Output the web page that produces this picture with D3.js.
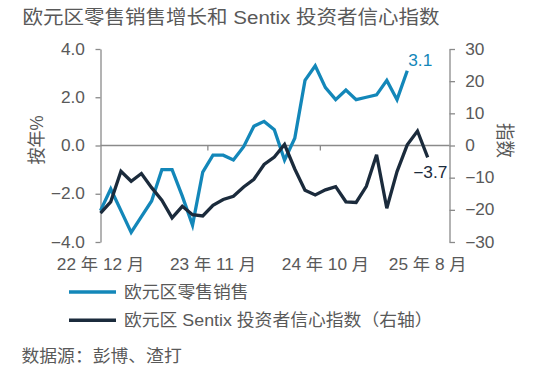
<!DOCTYPE html>
<html><head><meta charset="utf-8">
<script src="https://cdn.jsdelivr.net/npm/d3@7"></script>
<style>
html,body{margin:0;padding:0;background:#fff;}
svg{display:block;font-family:"Liberation Sans","Noto Sans CJK SC",sans-serif;}
</style></head>
<body><svg id="c" width="557" height="372"></svg>
<script>
const months = ["2022-12","2023-01","2023-02","2023-03","2023-04","2023-05","2023-06","2023-07","2023-08","2023-09","2023-10","2023-11",
  "2023-12","2024-01","2024-02","2024-03","2024-04","2024-05","2024-06","2024-07","2024-08","2024-09","2024-10","2024-11",
  "2024-12","2025-01","2025-02","2025-03","2025-04","2025-05","2025-06","2025-07","2025-08"];
const retailYoY = [-2.7,-1.8,-2.7,-3.6,-2.95,-2.3,-1.0,-1.0,-2.1,-3.3,-1.1,-0.4,-0.4,-0.6,-0.05,0.8,1.0,0.65,-0.6,0.3,2.7,3.3,2.4,1.9,2.3,1.9,2.0,2.1,2.7,1.9,3.1];
const sentixIdx = [-21.0,-17.5,-8.0,-11.1,-8.7,-13.1,-17.0,-22.5,-18.9,-21.5,-21.9,-18.6,-16.8,-15.8,-12.9,-10.5,-5.9,-3.6,0.3,-7.3,-13.9,-15.4,-13.8,-12.8,-17.5,-17.7,-12.7,-2.9,-19.5,-8.1,0.2,4.5,-3.7];
const xTickMonths = ["2022-12","2023-11","2024-10","2025-08"];
const xTickLabels = ["22 年 12 月","23 年 11 月","24 年 10 月","25 年 8 月"];
const leftTicks = [-4,-2,0,2,4];
const rightTicks = [-30,-20,-10,0,10,20,30];
const title = "欧元区零售销售增长和 Sentix 投资者信心指数";
const seriesNames = ["欧元区零售销售","欧元区 Sentix 投资者信心指数（右轴）"];
const source = "数据源：彭博、渣打";

const BLUE = "#1387b9", NAVY = "#1b2b3c", AXIS = "#8a8a8a", TXT = "#595959";
const SX = 1.08;
const L = 100.5, R = 449.5, T = 49, B = 242, XEND = 427.7;

const svg = d3.select("#c");
const x = d3.scaleLinear().domain([0, months.length - 1]).range([L, XEND]);
const yL = d3.scaleLinear().domain([-4, 4]).range([B, T]);
const yR = d3.scaleLinear().domain([-30, 30]).range([B, T]);

function txt(xp, yp, s, size, color, anchor) {
  return svg.append("text")
    .attr("transform", `translate(${xp},${yp}) scale(${SX},1)`)
    .attr("font-size", size).attr("fill", color)
    .attr("text-anchor", anchor || "start").text(s);
}

// title
txt(22.5, 23.5, title, 19, TXT);

// zero line
svg.append("line").attr("x1", L).attr("x2", R).attr("y1", yL(0)).attr("y2", yL(0))
  .attr("stroke", AXIS).attr("stroke-width", 1.3);
// x tick marks (between categories)
const idxOf = m => months.indexOf(m);
svg.selectAll(".xt").data(xTickMonths.slice(1, 3)).enter().append("line")
  .attr("x1", d => x(idxOf(d) - 0.5)).attr("x2", d => x(idxOf(d) - 0.5))
  .attr("y1", yL(0)).attr("y2", yL(0) + 5).attr("stroke", AXIS).attr("stroke-width", 1.3);
// x labels
xTickMonths.forEach((m, i) => txt(x(idxOf(m)), 270, xTickLabels[i], 16, TXT, "middle"));

// left axis
const gl = svg.append("g").attr("transform", `translate(${L},0)`)
  .call(d3.axisLeft(yL).tickValues(leftTicks).tickFormat(d3.format(".1f")).tickSize(5).tickSizeOuter(0).tickPadding(9.4));
// right axis
const gr = svg.append("g").attr("transform", `translate(${R},0)`)
  .call(d3.axisRight(yR).tickValues(rightTicks).tickFormat(d3.format("d")).tickSize(5.5).tickSizeOuter(0).tickPadding(9));
[gl, gr].forEach(g => {
  g.select(".domain").attr("stroke", AXIS).attr("stroke-width", 1.3);
  g.selectAll(".tick line").attr("stroke", AXIS).attr("stroke-width", 1.3);
  g.selectAll(".tick text").attr("font-size", 16).attr("fill", TXT)
    .attr("font-family", "Liberation Sans, Noto Sans CJK SC, sans-serif")
    .attr("transform", `scale(${SX},1)`);
});

// axis titles
svg.append("text").attr("transform", `translate(43,140) rotate(-90) scale(1,${SX})`)
  .attr("text-anchor", "middle").attr("font-size", 17).attr("fill", TXT).text("按年%");
svg.append("text").attr("transform", `translate(497.5,140.5) rotate(90) scale(1,${SX})`)
  .attr("text-anchor", "middle").attr("font-size", 17.5).attr("fill", TXT).text("指数");

// lines
const lineL = d3.line().x((d, i) => x(i)).y(d => yL(d));
const lineR = d3.line().x((d, i) => x(i)).y(d => yR(d));
svg.append("path").datum(retailYoY).attr("d", lineL).attr("fill", "none")
  .attr("stroke", BLUE).attr("stroke-width", 3.3).attr("stroke-linejoin", "miter");
svg.append("path").datum(sentixIdx).attr("d", lineR).attr("fill", "none")
  .attr("stroke", NAVY).attr("stroke-width", 3.3).attr("stroke-linejoin", "miter");

// end labels
const lr = retailYoY.length - 1, ls = sentixIdx.length - 1;
txt(x(lr) + 1, yL(retailYoY[lr]) - 5, d3.format(".1f")(retailYoY[lr]), 16, BLUE);
txt(x(ls) - 14.5, yR(sentixIdx[ls]) + 21, d3.format(".1f")(sentixIdx[ls]), 16, NAVY);

// legend
const legColors = [BLUE, NAVY];
seriesNames.forEach((n, i) => {
  const ly = 292 + i * 28.3;
  svg.append("line").attr("x1", 69).attr("x2", 116).attr("y1", ly).attr("y2", ly)
    .attr("stroke", legColors[i]).attr("stroke-width", 3.5);
  txt(124, ly + 5.5, n, 16.5, TXT);
});

// source
txt(21.5, 361.5, source, 16.5, TXT);
</script></body></html>
